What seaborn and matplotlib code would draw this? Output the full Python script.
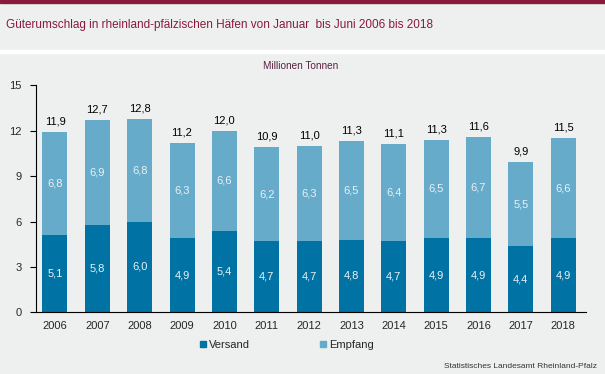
import matplotlib
matplotlib.use("Agg")
import matplotlib.pyplot as plt
from matplotlib.patches import Rectangle
from matplotlib.lines import Line2D
import seaborn as sns
import pandas as pd
import numpy as np

# data
years = ["2006", "2007", "2008", "2009", "2010", "2011", "2012",
         "2013", "2014", "2015", "2016", "2017", "2018"]
versand = [5.1, 5.8, 6.0, 4.9, 5.4, 4.7, 4.7, 4.8, 4.7, 4.9, 4.9, 4.4, 4.9]
empfang = [6.8, 6.9, 6.8, 6.3, 6.6, 6.2, 6.3, 6.5, 6.4, 6.5, 6.7, 5.5, 6.6]
totals = [11.9, 12.7, 12.8, 11.2, 12.0, 10.9, 11.0, 11.3, 11.1, 11.3, 11.6, 9.9, 11.5]

dark = "#0072a3"
light = "#66abc9"
bg = "#eef0ef"
wine = "#8a1a3c"

df = pd.DataFrame({"Jahr": years, "Versand": versand, "Empfang": empfang})
df["Summe"] = df["Versand"] + df["Empfang"]

sns.set_style("white")
plt.rcParams["font.family"] = ["Liberation Sans", "DejaVu Sans"]

fig = plt.figure(figsize=(6.05, 3.74), dpi=100, facecolor=bg)
H = 374.0
# header decorations
fig.patches.append(Rectangle((0, 1 - 3 / H), 1, 3 / H, transform=fig.transFigure,
                             color=wine, zorder=0))
fig.patches.append(Rectangle((0, 1 - 53 / H), 1, 3 / H, transform=fig.transFigure,
                             color="white", zorder=0))
fig.text(6 / 605, 1 - 25 / H, "Güterumschlag in rheinland-pfälzischen Häfen von Januar  bis Juni 2006 bis 2018",
         color=wine, fontsize=8.5, va="center", ha="left")

ax = fig.add_axes([35.5 / 605, 1 - 312.3 / H, (586 - 35.5) / 605, (312.3 - 85.3) / H])
ax.set_facecolor(bg)

sns.barplot(data=df, x="Jahr", y="Summe", color=light, width=0.59, ax=ax,
            saturation=1, errorbar=None)
sns.barplot(data=df, x="Jahr", y="Versand", color=dark, width=0.59, ax=ax,
            saturation=1, errorbar=None)
for p in ax.patches:
    p.set_linewidth(0)

lbl = "#e9f1f6"
for i in range(len(years)):
    v, e, t = versand[i], empfang[i], totals[i]
    ax.text(i, v / 2, f"{v:.1f}".replace(".", ","), ha="center", va="center",
            color=lbl, fontsize=8)
    ax.text(i, v + e / 2, f"{e:.1f}".replace(".", ","), ha="center", va="center",
            color=lbl, fontsize=8)
    ax.annotate(f"{t:.1f}".replace(".", ","), (i, v + e), xytext=(0, 4),
                textcoords="offset points", ha="center", va="bottom",
                color="black", fontsize=8)

ax.set_xlim(-0.46, 12.54)
ax.set_ylim(0, 15)
ax.set_yticks(np.arange(0, 16, 3))
ax.set_xlabel("")
ax.set_ylabel("")
ax.set_xticks(range(len(years)))
ax.set_xticklabels(years, fontsize=8)
ax.set_xticks(np.arange(0.5, 12.5, 1), minor=True)
ax.tick_params(axis="x", which="major", length=0, pad=6)
ax.tick_params(axis="x", which="minor", length=4, width=0.8, color="black", direction="out")
ax.tick_params(axis="y", length=4, width=0.8, color="black", direction="out",
               labelsize=8, pad=6, left=True)
for s in ["top", "right"]:
    ax.spines[s].set_visible(False)
for s in ["left", "bottom"]:
    ax.spines[s].set_color("black")
    ax.spines[s].set_linewidth(0.8)

fig.text(301 / 605, 1 - 66 / H, "Millionen Tonnen", color="#5a2040", fontsize=7.2,
         ha="center", va="center")

handles = [Line2D([], [], marker="s", linestyle="", markersize=5, color=dark),
           Line2D([], [], marker="s", linestyle="", markersize=5, color=light)]
fig.legend(handles, ["Versand", "Empfang"], ncol=2, frameon=False,
           loc="center left", bbox_to_anchor=(190 / 605, 1 - 345 / H),
           fontsize=8, handlelength=0.6, handletextpad=0.2, columnspacing=6.3)

fig.text(597 / 605, 1 - 367 / H, "Statistisches Landesamt Rheinland-Pfalz",
         color="#333333", fontsize=6, ha="right", va="center")

fig.savefig("out.png", dpi=100, facecolor=bg)
